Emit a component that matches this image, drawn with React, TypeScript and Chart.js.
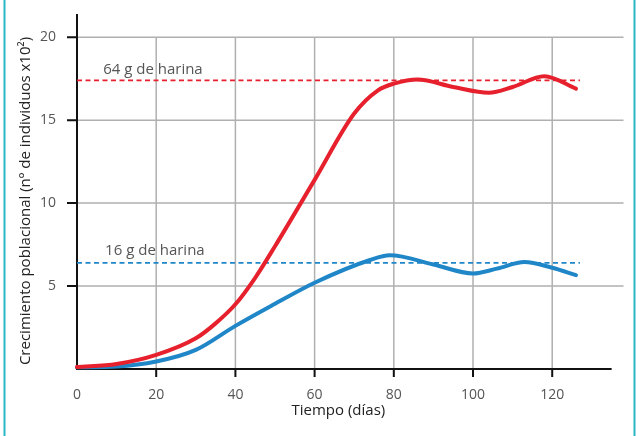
import React, { useEffect, useRef } from 'react';
import { Chart, registerables } from 'chart.js';

Chart.register(...registerables);

// ---- data ----
const days64 = [0, 10, 20, 30, 35, 40, 45, 50, 60, 70, 76, 80, 86, 95, 104, 110, 118, 126];
const pop64 = [0.12, 0.3, 0.85, 1.85, 2.75, 3.9, 5.5, 7.4, 11.4, 15.4, 16.8, 17.2, 17.45, 17.0, 16.65, 17.0, 17.65, 16.9];
const days16 = [0, 10, 20, 30, 40, 49, 60, 74, 79, 90, 100, 106, 113, 120, 126];
const pop16 = [0.1, 0.15, 0.45, 1.15, 2.6, 3.8, 5.2, 6.57, 6.85, 6.3, 5.76, 6.05, 6.45, 6.1, 5.66];
const refDays = [0, 127];
const ref64 = [17.4, 17.4];
const ref16 = [6.4, 6.4];
const xTicks = [0, 20, 40, 60, 80, 100, 120];
const yTicks = [5, 10, 15, 20];
const label64 = '64 g de harina';
const label16 = '16 g de harina';
const xTitle = 'Tiempo (días)';
const yTitle = 'Crecimiento poblacional (nº de individuos x10²)';

const FONT = '"Open Sans", "Noto Sans", sans-serif';
const RED = '#e6202c';
const BLUE = '#1f86c8';

const decor = {
  id: 'decor',
  beforeDatasetsDraw(chart: any) {
    const { ctx } = chart;
    const x = chart.scales.x;
    const y = chart.scales.y;
    ctx.save();
    // grid
    ctx.strokeStyle = '#b0b0b0';
    ctx.lineWidth = 1.5;
    ctx.beginPath();
    for (const v of yTicks) {
      const py = y.getPixelForValue(v);
      ctx.moveTo(x.getPixelForValue(0), py);
      ctx.lineTo(x.getPixelForValue(138), py);
    }
    for (const v of xTicks) {
      if (v === 0) continue;
      const px = x.getPixelForValue(v);
      ctx.moveTo(px, y.getPixelForValue(0));
      ctx.lineTo(px, y.getPixelForValue(20));
    }
    ctx.stroke();
    // axes
    ctx.strokeStyle = '#111';
    ctx.lineWidth = 2;
    ctx.beginPath();
    const x0 = x.getPixelForValue(0);
    const y0 = y.getPixelForValue(0);
    ctx.moveTo(x0, y0 + 1);
    ctx.lineTo(x0, y.getPixelForValue(21.4));
    ctx.moveTo(x0 - 1, y0);
    ctx.lineTo(x.getPixelForValue(135), y0);
    for (const v of yTicks) {
      const py = y.getPixelForValue(v);
      ctx.moveTo(x0 - 10, py);
      ctx.lineTo(x0, py);
    }
    for (const v of xTicks) {
      if (v === 0) continue;
      const px = x.getPixelForValue(v);
      ctx.moveTo(px, y0);
      ctx.lineTo(px, y0 + 8);
    }
    ctx.stroke();
    // annotations
    ctx.fillStyle = '#555';
    ctx.font = `15px ${FONT}`;
    ctx.textAlign = 'left';
    ctx.textBaseline = 'alphabetic';
    ctx.fillText(label64, x.getPixelForValue(6.6), y.getPixelForValue(17.77));
    ctx.fillText(label16, x.getPixelForValue(7.1), y.getPixelForValue(6.85));
    ctx.restore();
  },
  afterDraw(chart: any) {
    const { ctx } = chart;
    const x = chart.scales.x;
    ctx.save();
    ctx.fillStyle = '#222';
    ctx.font = `15px ${FONT}`;
    ctx.textAlign = 'center';
    ctx.textBaseline = 'middle';
    ctx.fillText(xTitle, x.getPixelForValue(66), 411);
    ctx.translate(26, 201);
    ctx.rotate(-Math.PI / 2);
    ctx.fillText(yTitle, 0, 0);
    ctx.restore();
    ctx.save();
    ctx.strokeStyle = '#2bb6c4';
    ctx.lineWidth = 2;
    ctx.beginPath();
    ctx.moveTo(4.5, 0);
    ctx.lineTo(4.5, 436);
    ctx.moveTo(634.5, 0);
    ctx.lineTo(634.5, 436);
    ctx.stroke();
    ctx.restore();
  },
};

export default function App() {
  const ref = useRef<HTMLCanvasElement>(null);
  useEffect(() => {
    document.body.style.margin = '0';
    const toPts = (xs: number[], ys: number[]) => xs.map((v, i) => ({ x: v, y: ys[i] }));
    const chart = new Chart(ref.current!, {
      type: 'line',
      data: {
        datasets: [
          {
            data: toPts(days64, pop64),
            borderColor: RED,
            borderWidth: 4,
            pointRadius: 0,
            cubicInterpolationMode: 'monotone',
            borderCapStyle: 'round',
            clip: false,
            order: 0,
          },
          {
            data: toPts(days16, pop16),
            borderColor: BLUE,
            borderWidth: 4,
            pointRadius: 0,
            cubicInterpolationMode: 'monotone',
            borderCapStyle: 'round',
            clip: false,
            order: 1,
          },
          {
            data: toPts(refDays, ref64),
            borderColor: RED,
            borderWidth: 1.8,
            borderDash: [5, 3.5],
            pointRadius: 0,
            order: 2,
          },
          {
            data: toPts(refDays, ref16),
            borderColor: BLUE,
            borderWidth: 1.8,
            borderDash: [5, 3.5],
            pointRadius: 0,
            order: 3,
          },
        ],
      },
      options: {
        responsive: false,
        animation: false,
        events: [],
        layout: { padding: { top: 14, right: 12.5, left: 0, bottom: 0 } },
        plugins: { legend: { display: false }, tooltip: { enabled: false } },
        scales: {
          x: {
            type: 'linear',
            min: 0,
            max: 138,
            grid: { display: false },
            border: { display: false },
            afterBuildTicks: (s: any) => {
              s.ticks = xTicks.map((v) => ({ value: v }));
            },
            afterFit: (s: any) => {
              s.height = 67;
              s.paddingLeft = 0;
              s.paddingRight = 0;
            },
            ticks: {
              color: '#555',
              font: { family: FONT, size: 14 },
              padding: 10,
              maxRotation: 0,
              autoSkip: false,
            },
          },
          y: {
            type: 'linear',
            min: 0,
            max: 21.4,
            grid: { display: false },
            border: { display: false },
            afterBuildTicks: (s: any) => {
              s.ticks = yTicks.map((v) => ({ value: v }));
            },
            afterFit: (s: any) => {
              s.width = 77;
              s.paddingTop = 0;
              s.paddingBottom = 0;
            },
            ticks: {
              color: '#555',
              font: { family: FONT, size: 14 },
              padding: 13,
              autoSkip: false,
            },
          },
        },
      },
      plugins: [decor],
    });
    return () => chart.destroy();
  }, []);
  return (
    <div style={{ width: 636, height: 436, background: '#fff' }}>
      <canvas ref={ref} width={636} height={436} style={{ display: 'block' }} />
    </div>
  );
}
